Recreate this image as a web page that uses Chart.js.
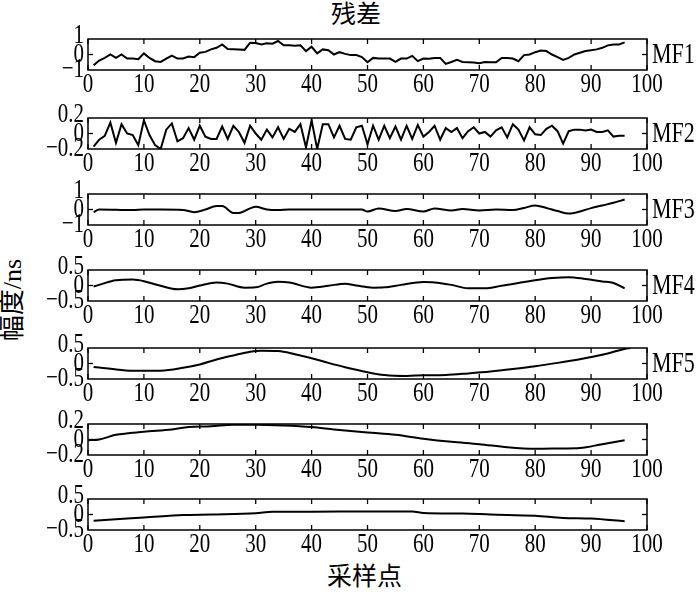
<!DOCTYPE html>
<html>
<head>
<meta charset="utf-8">
<script src="https://cdn.jsdelivr.net/npm/chart.js@4"></script>
<style>
  body { margin: 0; background: #fff; }
  #wrap { position: relative; width: 700px; height: 596px; overflow: hidden; }
  #wrap canvas { position: absolute; left: 0; }
  .txt { position: absolute; font-family: "Liberation Serif", "Noto Sans CJK SC", serif; font-size: 25px; line-height: 30px; color: #000; white-space: nowrap; }
</style>
</head>
<body>
<div id="wrap">
  <div class="txt" style="left:331px; top:0px;">残差</div>
  <div class="txt" style="left:327px; top:562px;">采样点</div>
  <div class="txt" style="left:-28px; top:285px; font-size:26px; transform: rotate(-90deg);">幅度/ns</div>
</div>
<script>
const X_TICKS = [0, 10, 20, 30, 40, 50, 60, 70, 80, 90, 100];

// MF1 and MF2: one value per sample point 1..96
const mf1Y = [
  -0.70, -0.39, -0.22, 0.00, -0.22, 0.00, -0.26, -0.26, -0.30, 0.07,
  -0.22, -0.43, -0.48, -0.26, -0.07, -0.26, -0.26, -0.13, -0.17, 0.11,
  0.17, 0.33, 0.43, 0.65, 0.35, 0.34, 0.32, 0.30, 0.76, 0.74,
  0.65, 0.72, 0.70, 0.87, 0.59, 0.59, 0.57, 0.59, 0.22, 0.50,
  0.07, 0.33, 0.28, 0.00, 0.15, 0.04, -0.04, -0.04, -0.17, -0.50,
  -0.22, -0.26, -0.26, -0.26, -0.48, -0.26, -0.26, -0.09, -0.43, -0.26,
  -0.28, -0.22, -0.22, -0.61, -0.48, -0.35, -0.48, -0.50, -0.52, -0.57,
  -0.48, -0.50, -0.50, -0.22, -0.22, -0.26, -0.43, -0.04, 0.00, 0.15,
  0.26, 0.22, 0.00, -0.17, -0.35, -0.22, 0.00, 0.11, 0.22, 0.28,
  0.33, 0.43, 0.59, 0.65, 0.65, 0.78
];
const mf2Y = [
  -0.17, -0.08, -0.03, 0.14, -0.12, 0.12, 0.00, -0.02, -0.15, 0.17,
  -0.02, -0.15, -0.20, 0.05, 0.13, -0.10, -0.06, 0.07, -0.08, 0.10,
  -0.04, -0.07, -0.07, 0.09, -0.07, 0.10, 0.02, -0.12, 0.10, 0.00,
  -0.08, 0.05, -0.05, 0.08, -0.07, 0.06, 0.02, 0.12, -0.18, 0.17,
  -0.20, 0.12, 0.12, -0.05, 0.10, -0.07, -0.08, 0.08, 0.10, -0.14,
  0.10, -0.08, 0.10, -0.06, 0.09, -0.08, 0.10, -0.07, 0.11, -0.04,
  0.02, 0.10, -0.08, 0.07, 0.02, 0.07, -0.06, 0.03, 0.08, 0.00,
  0.02, -0.04, 0.04, 0.08, -0.05, 0.12, 0.05, -0.09, 0.08, -0.01,
  -0.02, 0.06, 0.10, 0.03, -0.13, 0.03, 0.05, 0.05, 0.04, 0.05,
  0.02, 0.02, 0.04, -0.04, -0.03, -0.03
];

// smoother components: values read at key sample points
const mf3X = [1, 2, 8, 10, 13, 17, 19, 21, 23, 24, 26, 27, 29, 30, 32, 34, 36, 40, 45, 49, 50, 52, 55, 57, 60, 62, 65, 67, 70, 73, 76, 78, 80, 82, 84, 86, 88, 90, 92, 94, 96];
const mf3Y = [-0.17, 0, -0.04, 0, 0, -0.03, -0.17, 0, 0.22, 0.22, -0.22, -0.22, 0.07, 0.17, 0, -0.04, 0, 0, 0, 0, -0.13, 0.07, -0.1, 0.04, -0.13, 0.07, -0.06, 0.04, -0.06, 0, -0.04, 0.1, 0.26, 0.1, -0.1, -0.26, -0.13, 0.09, 0.26, 0.43, 0.65];

const mf4X = [1, 2, 5, 8, 10, 13, 16, 18, 20, 23, 25, 28, 30, 32, 34, 36, 40, 43, 46, 48, 51, 53, 56, 60, 62, 65, 68, 71, 74, 77, 80, 83, 86, 89, 92, 94, 96];
const mf4Y = [-0.03, 0.02, 0.17, 0.19, 0.14, -0.01, -0.12, -0.09, 0, 0.1, 0.06, -0.07, -0.06, 0.06, 0.12, 0.1, -0.07, -0.01, 0.06, 0, -0.07, -0.06, 0.02, 0.11, 0.1, 0.02, -0.09, -0.09, -0.01, 0.08, 0.17, 0.24, 0.27, 0.21, 0.13, 0.08, -0.09];

const mf5X = [1, 4, 8, 13, 17, 20, 23, 26, 29, 31, 34, 37, 40, 43, 46, 50, 53, 57, 60, 64, 68, 72, 76, 80, 84, 88, 92, 96, 97];
const mf5Y = [-0.11, -0.17, -0.23, -0.23, -0.14, -0.03, 0.13, 0.26, 0.38, 0.41, 0.4, 0.3, 0.17, 0.02, -0.12, -0.28, -0.37, -0.4, -0.38, -0.37, -0.32, -0.26, -0.18, -0.09, 0.02, 0.14, 0.28, 0.47, 0.5];

const r6X = [0, 2, 5, 10, 15, 18, 22, 26, 30, 35, 40, 44, 50, 55, 60, 65, 70, 75, 80, 85, 88, 92, 96];
const r6Y = [-0.01, 0, 0.06, 0.1, 0.13, 0.16, 0.17, 0.19, 0.19, 0.18, 0.16, 0.13, 0.09, 0.06, 0.01, -0.03, -0.06, -0.1, -0.12, -0.115, -0.11, -0.06, -0.01];

const r7X = [1, 5, 10, 17, 22, 30, 33, 40, 50, 58, 60, 67, 72, 80, 85, 90, 96];
const r7Y = [-0.2, -0.15, -0.1, -0.02, 0, 0.04, 0.09, 0.09, 0.1, 0.1, 0.05, 0.03, 0, -0.04, -0.11, -0.13, -0.22];

const sampleIdx = mf1Y.map((_, i) => i + 1);

const ROWS = [
  { top: 39,  x: sampleIdx, y: mf1Y, yTicks: [-1, 0, 1],     label: "MF1", smooth: false },
  { top: 118, x: sampleIdx, y: mf2Y, yTicks: [-0.2, 0, 0.2], label: "MF2", smooth: false },
  { top: 194, x: mf3X,      y: mf3Y, yTicks: [-1, 0, 1],     label: "MF3", smooth: true },
  { top: 270, x: mf4X,      y: mf4Y, yTicks: [-0.5, 0, 0.5], label: "MF4", smooth: true },
  { top: 348, x: mf5X,      y: mf5Y, yTicks: [-0.5, 0, 0.5], label: "MF5", smooth: true },
  { top: 424, x: r6X,       y: r6Y,  yTicks: [-0.2, 0, 0.2], label: "",    smooth: true },
  { top: 499, x: r7X,       y: r7Y,  yTicks: [-0.5, 0, 0.5], label: "",    smooth: true },
];

const FONT_CSS = "21px 'Liberation Serif', serif";
const STRETCH = 1.3; // the source figure's lettering is tall and narrow
const PAD_TOP = 16;
const BOX_H = 31;
const X_AXIS_H = 30;

const fmt = (v) => String(v).replace("-", "\u2212");

function tallText(ctx, text, x, y, align) {
  ctx.save();
  ctx.translate(x, y);
  ctx.scale(1, STRETCH);
  ctx.textAlign = align;
  ctx.textBaseline = "middle";
  ctx.fillText(text, 0, 0);
  ctx.restore();
}

// matlab-like box with inward ticks, tick labels and the MFn tag on the right
const framePlugin = {
  id: "frame",
  afterDraw(chart, _args, opts) {
    const { ctx, chartArea: a, scales } = chart;
    const line = (x1, y1, x2, y2) => { ctx.beginPath(); ctx.moveTo(x1, y1); ctx.lineTo(x2, y2); ctx.stroke(); };
    ctx.save();
    ctx.strokeStyle = "#000";
    ctx.fillStyle = "#000";
    ctx.font = FONT_CSS;
    ctx.lineWidth = 1.5;
    ctx.strokeRect(a.left, a.top, a.right - a.left, a.bottom - a.top);
    ctx.lineWidth = 1.3;
    for (const t of scales.x.ticks) {
      const px = scales.x.getPixelForValue(t.value);
      line(px, a.bottom, px, a.bottom - 5);
      line(px, a.top, px, a.top + 5);
      tallText(ctx, fmt(t.value), px, a.bottom + 15, "center");
    }
    const py = scales.y.getPixelForValue(0);
    line(a.left, py, a.left + 5, py);
    line(a.right, py, a.right - 5, py);
    const yt = scales.y.ticks;
    yt.forEach((t, i) => {
      const p = scales.y.getPixelForValue(t.value) - (i === yt.length - 1 ? 3 : 0);
      tallText(ctx, fmt(t.value), a.left - 4, p, "right");
    });
    if (opts.label) {
      ctx.font = "22px 'Liberation Serif', serif";
      tallText(ctx, opts.label, a.right + 5, py + 1, "left");
    }
    ctx.restore();
  },
};

const wrap = document.getElementById("wrap");

ROWS.forEach((row) => {
  const canvas = document.createElement("canvas");
  const h = PAD_TOP + BOX_H + X_AXIS_H;
  canvas.width = 700;
  canvas.height = h;
  canvas.style.top = (row.top - PAD_TOP) + "px";
  wrap.appendChild(canvas);

  new Chart(canvas.getContext("2d"), {
    type: "line",
    data: {
      datasets: [{
        data: row.x.map((xv, i) => ({ x: xv, y: row.y[i] })),
        borderColor: "#000",
        borderWidth: 2,
        pointRadius: 0,
        tension: 0,
        cubicInterpolationMode: row.smooth ? "monotone" : "default",
        fill: false,
      }],
    },
    options: {
      responsive: false,
      animation: false,
      events: [],
      layout: { padding: { top: PAD_TOP, right: 53, bottom: 0, left: 0 } },
      scales: {
        x: {
          type: "linear",
          min: 0,
          max: 100,
          grid: { display: false },
          border: { display: false },
          afterBuildTicks: (axis) => { axis.ticks = X_TICKS.map((v) => ({ value: v })); },
          afterFit: (axis) => { axis.height = X_AXIS_H; },
          ticks: { display: false },
        },
        y: {
          min: row.yTicks[0],
          max: row.yTicks[row.yTicks.length - 1],
          grid: { display: false },
          border: { display: false },
          afterBuildTicks: (axis) => { axis.ticks = row.yTicks.map((v) => ({ value: v })); },
          afterFit: (axis) => { axis.width = 88; },
          ticks: { display: false },
        },
      },
      plugins: {
        legend: { display: false },
        tooltip: { enabled: false },
        frame: { label: row.label },
      },
    },
    plugins: [framePlugin],
  });
});
</script>
</body>
</html>
